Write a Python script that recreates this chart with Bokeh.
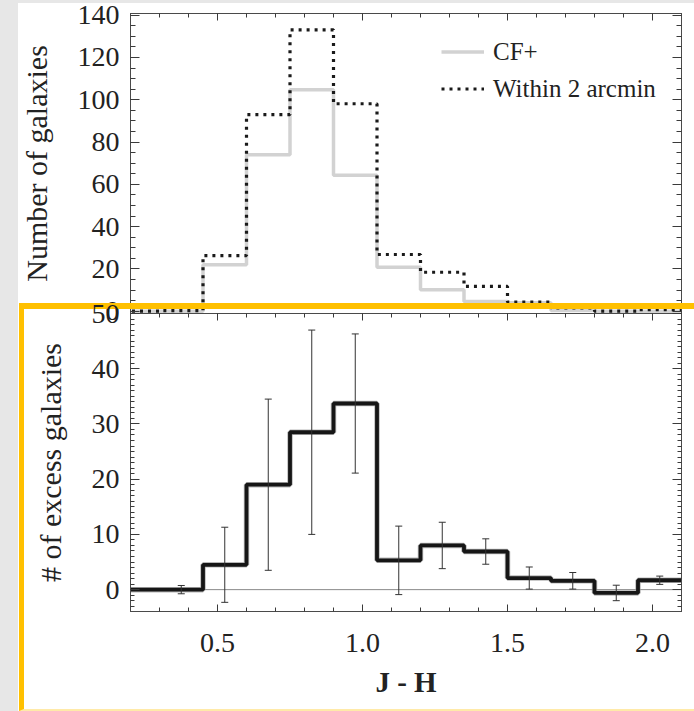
import numpy as np
from bokeh.plotting import figure
from bokeh.layouts import column
from bokeh.models import (LinearAxis, FixedTicker, Range1d, Legend, LegendItem,
                          Whisker, ColumnDataSource, Span, TeeHead,
                          CustomJSTickFormatter, NumeralTickFormatter, InlineStyleSheet)
from bokeh.embed import file_html
from bokeh.resources import INLINE

# ---------------- data ----------------
bin_edges = [0.15, 0.30, 0.45, 0.60, 0.75, 0.90, 1.05, 1.20, 1.35, 1.50, 1.65, 1.80, 1.95, 2.10]
cf_plus = [0, 0, 21.9, 74.0, 104.7, 64.3, 20.8, 10.1, 4.6, 4.0, 0.3, 0, 0]
within_2arcmin = [0, 0.3, 26.3, 93.0, 133.1, 98.1, 26.8, 18.4, 11.7, 4.3, 1.5, 0, 0.7]
excess = [0, 0, 4.5, 19.0, 28.5, 33.7, 5.3, 8.0, 6.9, 2.1, 1.6, -0.6, 1.7]
excess_err = [None, 0.75, 6.8, 15.5, 18.5, 12.6, 6.2, 4.2, 2.3, 2.0, 1.5, 1.4, 0.75]

x_major = [0.5, 1.0, 1.5, 2.0]
top_y_major = [0, 20, 40, 60, 80, 100, 120, 140]
bot_y_major = [0, 10, 20, 30, 40, 50]
legend_labels = ["CF+", "Within 2 arcmin"]
x_label = "J - H"
top_y_label = "Number of galaxies"
bot_y_label = "# of excess galaxies"

# ---------------- style ----------------
FONT = "Liberation Serif"
FRAME = "#4a4a4a"
TICK = "#3a3a3a"
TEXT = "#222222"

x_minor = [round(v, 2) for v in np.arange(0.2, 2.1001, 0.1)]
top_minor = list(range(0, 141, 5))
bot_minor = list(range(-3, 51, 1))


def add_axis(p, side, ticker, labels, major_in, minor_in, axis_label=None,
             label_size="28px", standoff=11, axis_label_standoff=22,
             axis_label_size="30px", axis_label_style="normal", formatter=None):
    ax = LinearAxis(ticker=ticker)
    ax.axis_line_color = FRAME
    ax.axis_line_width = 1
    ax.major_tick_in = major_in
    ax.major_tick_out = 0
    ax.minor_tick_in = minor_in
    ax.minor_tick_out = 0
    ax.major_tick_line_color = TICK
    ax.minor_tick_line_color = TICK
    if labels:
        if formatter is not None:
            ax.formatter = formatter
        ax.major_label_text_font = FONT
        ax.major_label_text_font_size = label_size
        ax.major_label_text_color = TEXT
        ax.major_label_standoff = standoff
    else:
        ax.formatter = CustomJSTickFormatter(code="return ''")
        ax.major_label_text_font_size = "0px"
        ax.major_label_standoff = 0
    if axis_label:
        ax.axis_label = axis_label
        ax.axis_label_text_font = FONT
        ax.axis_label_text_font_size = axis_label_size
        ax.axis_label_text_font_style = axis_label_style
        ax.axis_label_text_color = TEXT
        ax.axis_label_standoff = axis_label_standoff
    p.add_layout(ax, side)
    return ax


top_css = InlineStyleSheet(css="""
:host::before { content: ""; position: absolute; left: 0; top: 0; width: 18px; height: 100%;
  background: #e7e7e7; z-index: 5; pointer-events: none; }
:host::after { content: ""; position: absolute; left: 0; top: 0; width: 100%; height: 3px;
  background: #e7e7e7; z-index: 5; pointer-events: none; }
""")
# orange slide frame painted above the upper panel but below the lower panel's own texts
bot_css = InlineStyleSheet(css="""
:host::before { content: ""; position: absolute; left: 19px; top: 14px; right: 0; bottom: 0;
  box-sizing: border-box; border-left: 5px solid #FFC000; border-top: 6px solid #FFC000;
  border-bottom: 2px solid #FFEAA8; pointer-events: none; }
:host::after { content: ""; position: absolute; left: 0; top: 0; width: 18px; height: 100%;
  background: #e7e7e7; z-index: 5; pointer-events: none; }
""")

x_range = Range1d(0.2, 2.1)

# ---------------- top panel ----------------
top = figure(width=694, height=328, x_range=x_range, y_range=Range1d(-1.1, 140.8),
             output_backend="svg", toolbar_location=None,
             x_axis_location=None, y_axis_location=None,
             min_border_left=130, min_border_right=13, min_border_top=13, min_border_bottom=15,
             background_fill_color="white", border_fill_color=None,
             outline_line_color=FRAME, stylesheets=[top_css])
top.grid.grid_line_color = None

add_axis(top, "left", FixedTicker(ticks=top_y_major, minor_ticks=top_minor), True, 9, 5,
         axis_label=top_y_label)
add_axis(top, "right", FixedTicker(ticks=top_y_major, minor_ticks=top_minor), False, 9, 5)
add_axis(top, "above", FixedTicker(ticks=x_major, minor_ticks=x_minor), False, 7, 4)

r_cf = top.step(x=bin_edges, y=cf_plus + [cf_plus[-1]], mode="after",
                line_color="#d2d2d2", line_width=3.5)
r_w2 = top.step(x=bin_edges, y=within_2arcmin + [within_2arcmin[-1]], mode="after",
                line_color="#1a1a1a", line_width=3.2, line_dash="3 5", line_cap="butt")

legend = Legend(items=[LegendItem(label=legend_labels[0], renderers=[r_cf]),
                       LegendItem(label=legend_labels[1], renderers=[r_w2])],
                location=(311, 210), border_line_color=None, background_fill_alpha=0,
                label_text_font=FONT, label_text_font_size="25px", label_text_color=TEXT,
                glyph_width=43, glyph_height=29, label_standoff=9, spacing=8,
                padding=0, margin=0)
top.add_layout(legend)

# ---------------- bottom panel ----------------
bot = figure(width=694, height=422, x_range=x_range, y_range=Range1d(-3.96, 50.0),
             output_backend="svg", toolbar_location=None,
             x_axis_location=None, y_axis_location=None,
             min_border_left=130, min_border_right=13, min_border_top=24, min_border_bottom=100,
             background_fill_color="white", border_fill_color=None,
             outline_line_color=FRAME, margin=(-39, 0, 0, 0), stylesheets=[bot_css])
bot.grid.grid_line_color = None

add_axis(bot, "left", FixedTicker(ticks=bot_y_major, minor_ticks=bot_minor), True, 9, 4,
         axis_label=bot_y_label)
add_axis(bot, "right", FixedTicker(ticks=bot_y_major, minor_ticks=bot_minor), False, 9, 4)
add_axis(bot, "above", FixedTicker(ticks=x_major, minor_ticks=x_minor), False, 7, 4)
add_axis(bot, "below", FixedTicker(ticks=x_major, minor_ticks=x_minor), True, 7, 4,
         axis_label=x_label, standoff=22, axis_label_standoff=11,
         axis_label_size="29px", axis_label_style="bold",
         formatter=NumeralTickFormatter(format="0.0"))

bot.add_layout(Span(location=0, dimension="width", line_color="#8a8a8a", line_width=1,
                    level="underlay"))

ex_ext = excess + [excess[-1]]
bot.step(x=bin_edges, y=ex_ext, mode="after", line_color="#9a9a9a", line_width=5.5, line_alpha=0.7)
bot.step(x=bin_edges, y=ex_ext, mode="after", line_color="#161616", line_width=3.8)

centers, uppers, lowers = [], [], []
for i, e in enumerate(excess_err):
    if e is None:
        continue
    c = (bin_edges[i] + bin_edges[i + 1]) / 2.0
    centers.append(c)
    uppers.append(excess[i] + e)
    lowers.append(excess[i] - e)
wsrc = ColumnDataSource(dict(x=centers, upper=uppers, lower=lowers))
wh = Whisker(source=wsrc, base="x", upper="upper", lower="lower",
             line_color="#333333", line_width=1, level="annotation",
             upper_head=TeeHead(size=7, line_color="#333333", line_width=1),
             lower_head=TeeHead(size=7, line_color="#333333", line_width=1))
bot.add_layout(wh)

layout = column(top, bot, spacing=0)
open("out.html", "w").write(file_html(layout, INLINE))
